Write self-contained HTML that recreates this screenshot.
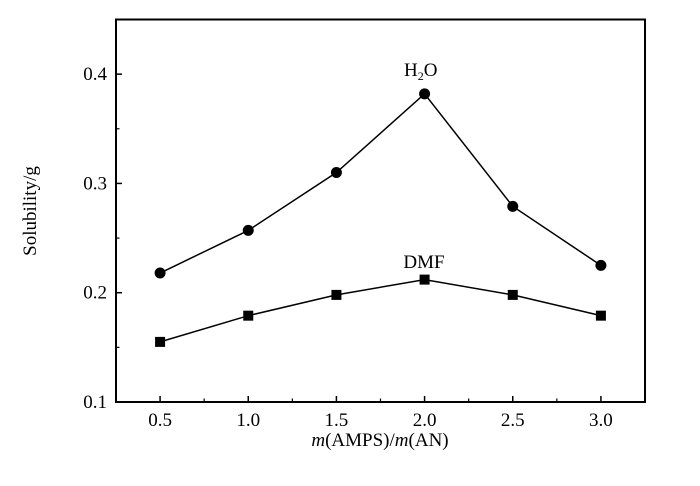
<!DOCTYPE html>
<html><head><meta charset="utf-8"><style>
body{margin:0;background:#fff}
svg text{font-family:"Liberation Serif",serif;fill:#000}
</style></head><body>
<svg width="700" height="481" viewBox="0 0 700 481">
<g id="chart"></g>
<text x="404" y="76" font-size="19">H<tspan font-size="12" dy="4">2</tspan><tspan dy="-4">O</tspan></text>
<text x="424" y="268" font-size="19" text-anchor="middle">DMF</text>
<text x="380" y="446" font-size="19" text-anchor="middle"><tspan font-style="italic">m</tspan>(AMPS)/<tspan font-style="italic">m</tspan>(AN)</text>
<text transform="translate(36,211) rotate(-90)" font-size="19" text-anchor="middle">Solubility/g</text>
</svg>
<script>
const categories=[0.5,1.0,1.5,2.0,2.5,3.0];
const h2oValues=[0.218,0.257,0.310,0.382,0.279,0.225];
const dmfValues=[0.155,0.179,0.198,0.212,0.198,0.179];
const xTickLabels=["0.5","1.0","1.5","2.0","2.5","3.0"];
const yTickValues=[0.1,0.2,0.3,0.4];
const yTickLabels=["0.1","0.2","0.3","0.4"];
const L=116,R=645,T=19.5,B=402;
const x=v=>L+(v-0.25)/(3.25-0.25)*(R-L);
const y=v=>B-(v-0.1)/(0.45-0.1)*(B-T);
const NS="http://www.w3.org/2000/svg";
const g=document.getElementById('chart');
function mk(t,a,p){const e=document.createElementNS(NS,t);for(const k in a)e.setAttribute(k,a[k]);(p||g).appendChild(e);return e;}
const frame=mk('rect',{x:L,y:T,width:R-L,height:B-T,fill:'none',stroke:'#000','stroke-width':2});


categories.forEach((c,i)=>{
 const t=mk('line',{x1:x(c),x2:x(c),y1:B,y2:B-6,stroke:'#000','stroke-width':1.5});
 
 
 const m=mk('line',{x1:x(c+0.25),x2:x(c+0.25),y1:B,y2:B-3.5,stroke:'#000','stroke-width':1.2});
 
 
 const lb=mk('text',{x:x(c),y:B+24,'font-size':19,'text-anchor':'middle'});
 lb.textContent=xTickLabels[i];
 
 
});
yTickValues.forEach((v,i)=>{
 const t=mk('line',{x1:L,x2:L+6,y1:y(v),y2:y(v),stroke:'#000','stroke-width':1.5});
 
 
 const m=mk('line',{x1:L,x2:L+3.5,y1:y(v+0.05),y2:y(v+0.05),stroke:'#000','stroke-width':1.2});
 
 
 const lb=mk('text',{x:L-9,y:y(v)+6,'font-size':19,'text-anchor':'end'});
 lb.textContent=yTickLabels[i];
 
 
});
function series(vals,name,shape){
 const pl=mk('polyline',{points:categories.map((c,i)=>x(c)+','+y(vals[i])).join(' '),fill:'none',stroke:'#000','stroke-width':1.5});
 
 
 categories.forEach((c,i)=>{
  let e;
  if(shape==='circle') e=mk('circle',{cx:x(c),cy:y(vals[i]),r:5.5,fill:'#000'});
  else e=mk('rect',{x:x(c)-5,y:y(vals[i])-5,width:10,height:10,fill:'#000'});
  
  
 });
}
series(h2oValues,'h2o','circle');
series(dmfValues,'dmf','square');
</script>
</body></html>
